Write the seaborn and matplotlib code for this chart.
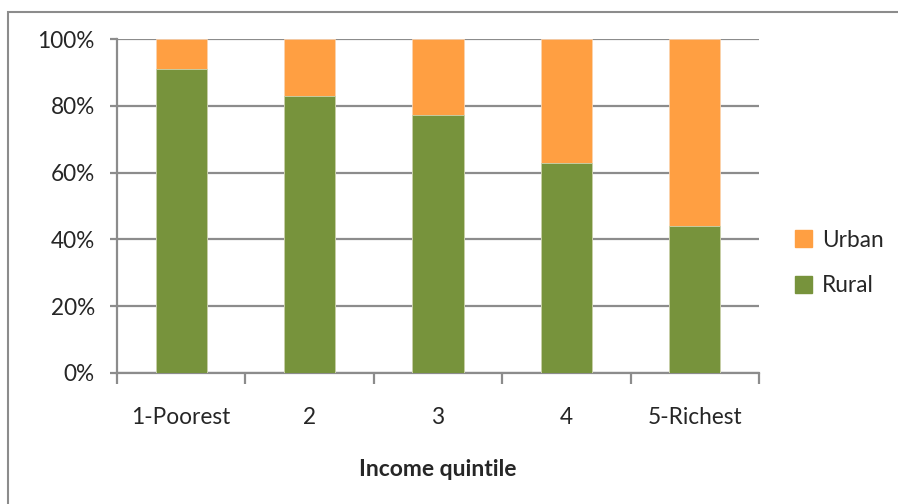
import numpy as np
import pandas as pd
import matplotlib
matplotlib.use("Agg")
import matplotlib.pyplot as plt
import matplotlib.patches as mpatches
from matplotlib.ticker import FixedLocator, PercentFormatter
import seaborn as sns

quintiles = ['1-Poorest', '2', '3', '4', '5-Richest']
rural = [91.0, 83.0, 77.3, 63.0, 44.0]
urban = [100 - r for r in rural]

green = '#77933C'
orange = '#FF9F42'
grid_c = '#8C8C8C'

sns.set_style('white')
plt.rcParams['font.family'] = ['Lato', 'DejaVu Sans']

df = pd.DataFrame({'quintile': quintiles, 'Rural': rural, 'Urban': urban})
df['Total'] = df['Rural'] + df['Urban']

fig = plt.figure(figsize=(8.98, 5.04), dpi=100)
ax = fig.add_axes([117 / 898, 1 - 372.7 / 504, (759 - 117) / 898, (372.7 - 39.3) / 504])

# stacked: draw total in orange, rural over it in green
sns.barplot(data=df, x='quintile', y='Total', color=orange, width=0.4,
            edgecolor='#FBD3AE', linewidth=0.6, saturation=1, ax=ax, zorder=3)
sns.barplot(data=df, x='quintile', y='Rural', color=green, width=0.4,
            edgecolor='#C9D4B0', linewidth=0.6, saturation=1, ax=ax, zorder=4)

ax.set_xlim(-0.5, 4.5)
ax.set_ylim(0, 100)
ax.set_yticks(np.arange(0, 101, 20))
ax.yaxis.set_major_formatter(PercentFormatter(decimals=0))
ax.grid(axis='y', color=grid_c, linewidth=1.6, zorder=0)
ax.set_axisbelow(True)

for s in ['top', 'right']:
    ax.spines[s].set_visible(False)
for s in ['left', 'bottom']:
    ax.spines[s].set_color(grid_c)
    ax.spines[s].set_linewidth(1.6)

ax.tick_params(axis='y', which='major', length=5, width=1.6, color=grid_c,
               labelsize=16.3, pad=11, left=True)
ax.xaxis.set_minor_locator(FixedLocator(np.arange(-0.5, 4.6, 1)))
ax.tick_params(axis='x', which='minor', length=8, width=1.6, color=grid_c, bottom=True)
ax.tick_params(axis='x', which='major', length=0, labelsize=16.3, pad=25)

ax.set_xlabel('Income quintile', fontsize=16.5, fontweight='bold', labelpad=22)
ax.set_ylabel('')

handles = [mpatches.Patch(color=orange, label='Urban'), mpatches.Patch(color=green, label='Rural')]
fig.legend(handles=handles, loc='center left', bbox_to_anchor=(786 / 898, 1 - 263 / 504),
           frameon=False, fontsize=16.3, handlelength=0.75, handleheight=0.75,
           handletextpad=0.45, labelspacing=1.1, borderaxespad=0)

# chart border
fig.patches.append(mpatches.Rectangle((8 / 898, -0.1), 1.2, 1 - 12 / 504 + 0.1,
                                      transform=fig.transFigure, fill=False,
                                      edgecolor='#8C8C8C', linewidth=1.5))

fig.savefig('out.png', dpi=100)
